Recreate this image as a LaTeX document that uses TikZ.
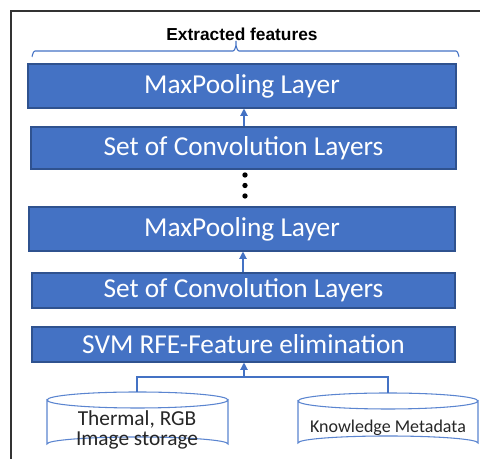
\documentclass[tikz,border=0pt]{standalone}
\usepackage{fontspec}
\setmainfont{Carlito}
\newfontfamily\titlefont{Liberation Sans}
\newcommand\cyltextfont{\fontsize{16}{15}\selectfont\lineskiplimit=-10pt\relax}
\usetikzlibrary{arrows.meta,decorations.pathreplacing}
\definecolor{boxblue}{HTML}{4472C4}
\definecolor{boxedge}{HTML}{2F528F}
\definecolor{linkblue}{HTML}{4472C4}
\definecolor{cylblue}{HTML}{5B85D0}
\begin{document}
\begin{tikzpicture}[x=0.75pt,y=-0.75pt,
  layerbox/.style={draw=boxedge,fill=boxblue,text=white,line width=0.8pt,
    inner sep=0pt,font=\fontsize{20.5}{24}\selectfont},
  link/.style={draw=linkblue,line width=0.9pt,-{Triangle[length=5.5pt,width=5.5pt]}},
  feed/.style={draw=linkblue,line width=0.9pt},
  cyl/.style={draw=cylblue,line width=0.8pt,fill=white},
  dot/.style={circle,fill=black,inner sep=0pt,minimum size=4pt}]
\useasboundingbox (0,0) rectangle (480,459);
% frame
\draw[line width=1.2pt,black!80] (11,459) -- (11,11) -- (480,11);
% title and brace
\node[font=\titlefont\bfseries\fontsize{13}{15}\selectfont] (title) at (242,34) {Extracted features};
\draw[linkblue,line width=0.8pt] (32,56) to[out=-90,in=180] (35,51) -- (233,51) to[out=0,in=90] (236,46) -- (236,41)
  (236,46) to[out=90,in=180] (239,51) -- (456,51) to[out=0,in=-90] (459,56);
% layers
\node[layerbox,minimum width=321pt,minimum height=33pt] (mp1) at (242,86) {MaxPooling Layer};
\node[layerbox,minimum width=318.75pt,minimum height=31.5pt] (cv1) at (243.5,148) {Set of Convolution Layers};
\node[layerbox,minimum width=319.5pt,minimum height=33pt] (mp2) at (242,229) {MaxPooling Layer};
\node[layerbox,minimum width=317.25pt,minimum height=26.25pt] (cv2) at (243.5,290.5) {Set of Convolution Layers};
\node[layerbox,minimum width=317.25pt,minimum height=26.25pt] (svm) at (243.5,344.5) {SVM RFE-Feature elimination};
% dots
\node[dot] (d1) at (245,175) {};
\node[dot] (d2) at (245,185.5) {};
\node[dot] (d3) at (245,196) {};
% arrows
\draw[link] (cv1.north -| 244,0) -- (mp1.south -| 244,0);
\draw[link] (cv2.north -| 243,0) -- (mp2.south -| 243,0);
% cylinders
\path[cyl] (47,400) -- (47,444) arc[start angle=180,end angle=360,x radius=90.5,y radius=7]
  -- (228,400) arc[start angle=0,end angle=180,x radius=90.5,y radius=8] -- cycle;
\draw[cylblue,line width=0.8pt] (47,400) arc[start angle=180,end angle=360,x radius=90.5,y radius=8];
\coordinate (cylL) at (137,392);
\node[font=\cyltextfont,align=center,text=black!85] (cylLtext) at (137,429.5) {Thermal, RGB\\Image storage};
\path[cyl] (298,401) -- (298,443) arc[start angle=180,end angle=360,x radius=90,y radius=7]
  -- (478,401) arc[start angle=0,end angle=180,x radius=90,y radius=8] -- cycle;
\draw[cylblue,line width=0.8pt] (298,401) arc[start angle=180,end angle=360,x radius=90,y radius=8];
\coordinate (cylR) at (388,393);
\node[font=\fontsize{13.5}{15}\selectfont,text=black!85] (cylRtext) at (388,428) {Knowledge Metadata};
% feed connectors
\coordinate (join) at (244,377);
\draw[feed] (cylL) |- (join);
\draw[feed] (cylR) |- (join);
\draw[link] (join) -- (svm.south -| join);
\end{tikzpicture}
\end{document}
